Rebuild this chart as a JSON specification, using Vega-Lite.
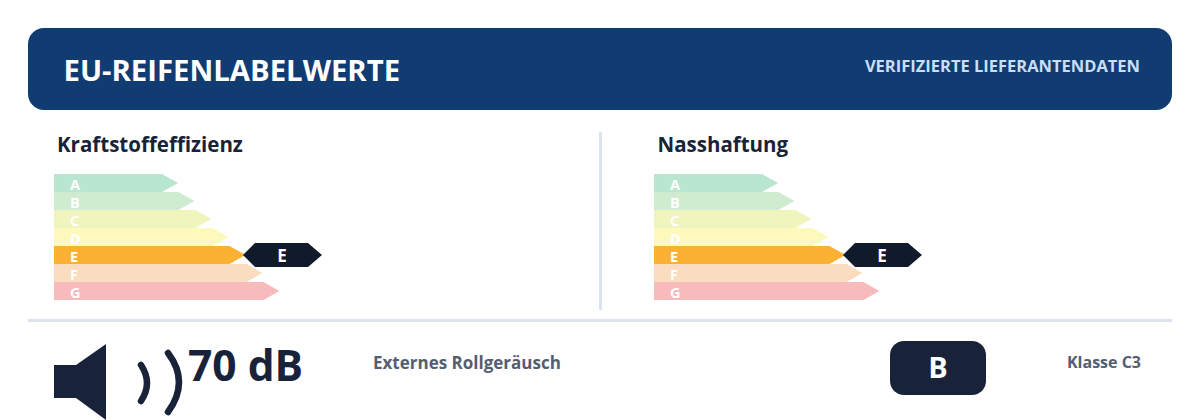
{
  "$schema": "https://vega.github.io/schema/vega-lite/v6.json",
  "background": "white",
  "padding": {"left": 28, "top": 28, "right": 28, "bottom": 0},
  "autosize": {"type": "pad"},
  "config": {
    "font": "Open Sans",
    "view": {"stroke": null},
    "axis": {"disable": true}
  },
  "datasets": {
    "label": [{"title": "EU-REIFENLABELWERTE", "note": "VERIFIZIERTE LIEFERANTENDATEN"}],
    "fuel": [
      {"panel": "Kraftstoffeffizienz", "grade": "A", "length": 108.5, "rated": false},
      {"panel": "Kraftstoffeffizienz", "grade": "B", "length": 125, "rated": false},
      {"panel": "Kraftstoffeffizienz", "grade": "C", "length": 142, "rated": false},
      {"panel": "Kraftstoffeffizienz", "grade": "D", "length": 159, "rated": false},
      {"panel": "Kraftstoffeffizienz", "grade": "E", "length": 176, "rated": true},
      {"panel": "Kraftstoffeffizienz", "grade": "F", "length": 193, "rated": false},
      {"panel": "Kraftstoffeffizienz", "grade": "G", "length": 210, "rated": false}
    ],
    "wet": [
      {"panel": "Nasshaftung", "grade": "A", "length": 108.5, "rated": false},
      {"panel": "Nasshaftung", "grade": "B", "length": 125, "rated": false},
      {"panel": "Nasshaftung", "grade": "C", "length": 142, "rated": false},
      {"panel": "Nasshaftung", "grade": "D", "length": 159, "rated": false},
      {"panel": "Nasshaftung", "grade": "E", "length": 176, "rated": true},
      {"panel": "Nasshaftung", "grade": "F", "length": 193, "rated": false},
      {"panel": "Nasshaftung", "grade": "G", "length": 210, "rated": false}
    ],
    "noise": [{"value": "70 dB", "measure": "Externes Rollgeräusch", "noiseClass": "B", "tyreClass": "Klasse C3"}]
  },
  "vconcat": [
    {
      "width": 1144,
      "height": 82,
      "data": {"name": "label"},
      "layer": [
        {"mark": {"type": "rect", "color": "#113c72", "cornerRadius": 16}},
        {
          "mark": {"type": "text", "align": "left", "baseline": "alphabetic", "dy": 12, "fontSize": 29.3, "fontWeight": "bold", "color": "white"},
          "encoding": {
            "x": {"datum": 0, "type": "quantitative", "scale": {"domain": [0, 1], "range": [35.5, 1112]}},
            "text": {"field": "title"}
          }
        },
        {
          "mark": {"type": "text", "align": "right", "baseline": "alphabetic", "dy": 3, "fontSize": 16.5, "fontWeight": "bold", "color": "#c9def7"},
          "encoding": {
            "x": {"datum": 1, "type": "quantitative"},
            "text": {"field": "note"}
          }
        }
      ]
    },
    {
      "spacing": 9,
      "vconcat": [
        {
          "spacing": 0,
          "hconcat": [
            {
              "width": 570.5,
              "height": 178,
              "data": {"name": "fuel"},
              "encoding": {
                "x": {"field": "length", "type": "quantitative", "scale": {"domain": [0, 400], "range": [26, 426]}},
                "y": {"field": "grade", "type": "nominal", "scale": {"domain": ["A", "B", "C", "D", "E", "F", "G"], "range": [42, 168], "paddingInner": 0, "paddingOuter": 0}},
                "color": {"field": "grade", "type": "nominal", "legend": null, "scale": {"domain": ["A", "B", "C", "D", "E", "F", "G"], "range": ["#b9e6d0", "#cfecd0", "#eff5bd", "#fdf8bb", "#fbb234", "#fadcbf", "#f7babd"]}}
              },
              "layer": [
                {"mark": {"type": "bar"}},
                {"mark": {"type": "point", "shape": "M-0.5,-9L15.5,0L-0.5,9Z", "size": 4, "filled": true, "opacity": 1}},
                {
                  "transform": [{"filter": "datum.rated"}],
                  "mark": {"type": "point", "shape": "M13,0L25,-12L78,-12L92,0L78,12L25,12Z", "size": 4, "filled": true, "opacity": 1},
                  "encoding": {"color": {"value": "#111a2b"}}
                },
                {
                  "transform": [{"filter": "datum.rated"}],
                  "mark": {"type": "text", "baseline": "alphabetic", "dx": 52, "dy": 6.5, "fontSize": 17, "fontWeight": "bold"},
                  "encoding": {"text": {"field": "grade"}, "color": {"value": "white"}}
                },
                {
                  "mark": {"type": "text", "align": "left", "baseline": "alphabetic", "dx": 16, "dy": 7, "fontSize": 14.5, "fontWeight": "bold"},
                  "encoding": {"x": {"datum": 0, "type": "quantitative"}, "text": {"field": "grade"}, "color": {"value": "white"}}
                },
                {
                  "transform": [{"filter": "datum.grade === 'A'"}],
                  "mark": {"type": "text", "align": "left", "baseline": "alphabetic", "dx": 3, "dy": -31, "fontSize": 20.5, "fontWeight": "bold"},
                  "encoding": {"x": {"datum": 0, "type": "quantitative"}, "text": {"field": "panel"}, "color": {"value": "#18233a"}}
                }
              ]
            },
            {
              "width": 3,
              "height": 178,
              "data": {"name": "label"},
              "mark": {"type": "rect", "color": "#dbe3ec"}
            },
            {
              "width": 570.5,
              "height": 178,
              "data": {"name": "wet"},
              "encoding": {
                "x": {"field": "length", "type": "quantitative", "scale": {"domain": [0, 400], "range": [52, 452]}},
                "y": {"field": "grade", "type": "nominal", "scale": {"domain": ["A", "B", "C", "D", "E", "F", "G"], "range": [42, 168], "paddingInner": 0, "paddingOuter": 0}},
                "color": {"field": "grade", "type": "nominal", "legend": null, "scale": {"domain": ["A", "B", "C", "D", "E", "F", "G"], "range": ["#b9e6d0", "#cfecd0", "#eff5bd", "#fdf8bb", "#fbb234", "#fadcbf", "#f7babd"]}}
              },
              "layer": [
                {"mark": {"type": "bar"}},
                {"mark": {"type": "point", "shape": "M-0.5,-9L15.5,0L-0.5,9Z", "size": 4, "filled": true, "opacity": 1}},
                {
                  "transform": [{"filter": "datum.rated"}],
                  "mark": {"type": "point", "shape": "M13,0L25,-12L78,-12L92,0L78,12L25,12Z", "size": 4, "filled": true, "opacity": 1},
                  "encoding": {"color": {"value": "#111a2b"}}
                },
                {
                  "transform": [{"filter": "datum.rated"}],
                  "mark": {"type": "text", "baseline": "alphabetic", "dx": 52, "dy": 6.5, "fontSize": 17, "fontWeight": "bold"},
                  "encoding": {"text": {"field": "grade"}, "color": {"value": "white"}}
                },
                {
                  "mark": {"type": "text", "align": "left", "baseline": "alphabetic", "dx": 16, "dy": 7, "fontSize": 14.5, "fontWeight": "bold"},
                  "encoding": {"x": {"datum": 0, "type": "quantitative"}, "text": {"field": "grade"}, "color": {"value": "white"}}
                },
                {
                  "transform": [{"filter": "datum.grade === 'A'"}],
                  "mark": {"type": "text", "align": "left", "baseline": "alphabetic", "dx": 3.5, "dy": -31, "fontSize": 20.5, "fontWeight": "bold"},
                  "encoding": {"x": {"datum": 0, "type": "quantitative"}, "text": {"field": "panel"}, "color": {"value": "#18233a"}}
                }
              ]
            }
          ]
        },
        {
          "spacing": 0,
          "vconcat": [
            {
              "width": 1144,
              "height": 3,
              "data": {"name": "label"},
              "mark": {"type": "rect", "color": "#dde3ec"}
            },
            {
              "width": 1144,
              "height": 98,
              "data": {"name": "noise"},
              "layer": [
                {
                  "mark": {"type": "point", "shape": "M0,-6L22,-6L52,-27L52,49L22,27L0,27Z", "size": 4, "filled": true, "opacity": 1, "color": "#18233a"},
                  "encoding": {"x": {"datum": 0, "type": "quantitative", "scale": {"domain": [0, 1, 2, 3, 4], "range": [26, 160, 345, 910, 1113]}}}
                },
                {
                  "mark": {"type": "point", "shape": "M87,-6Q99,12 87,30M114,-18Q136,11 114,41", "size": 4, "filled": false, "opacity": 1, "color": "#18233a", "strokeWidth": 6.5, "strokeCap": "round"},
                  "encoding": {"x": {"datum": 0, "type": "quantitative"}}
                },
                {
                  "mark": {"type": "text", "align": "left", "baseline": "alphabetic", "dy": 10, "fontSize": 42.5, "fontWeight": "bold", "color": "#18233a"},
                  "encoding": {"x": {"datum": 1, "type": "quantitative"}, "text": {"field": "value"}}
                },
                {
                  "mark": {"type": "text", "align": "left", "baseline": "alphabetic", "dy": -2, "fontSize": 17, "fontWeight": "bold", "color": "#545e70"},
                  "encoding": {"x": {"datum": 2, "type": "quantitative"}, "text": {"field": "measure"}}
                },
                {
                  "mark": {"type": "point", "shape": "M-34,-30L34,-30A14,14,0,0,1,48,-16L48,10A14,14,0,0,1,34,24L-34,24A14,14,0,0,1,-48,10L-48,-16A14,14,0,0,1,-34,-30Z", "size": 4, "filled": true, "opacity": 1, "color": "#18233a"},
                  "encoding": {"x": {"datum": 3, "type": "quantitative"}}
                },
                {
                  "mark": {"type": "text", "baseline": "alphabetic", "dy": 7, "fontSize": 29, "fontWeight": "bold", "color": "white"},
                  "encoding": {"x": {"datum": 3, "type": "quantitative"}, "text": {"field": "noiseClass"}}
                },
                {
                  "mark": {"type": "text", "align": "right", "baseline": "alphabetic", "dy": -3, "fontSize": 16, "fontWeight": "bold", "color": "#545e70"},
                  "encoding": {"x": {"datum": 4, "type": "quantitative"}, "text": {"field": "tyreClass"}}
                }
              ]
            }
          ]
        }
      ]
    }
  ],
  "spacing": 22
}
